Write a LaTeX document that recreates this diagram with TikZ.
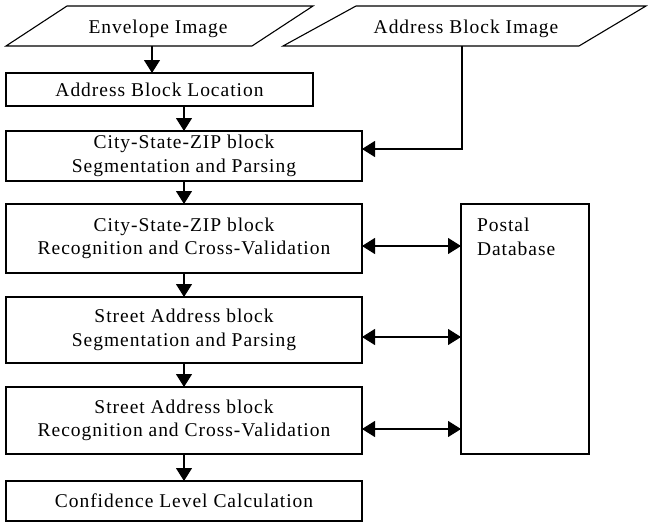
\documentclass[tikz,border=0pt]{standalone}
\usepackage{fontspec}
\setmainfont{Liberation Serif}[LetterSpace=5]
\usetikzlibrary{arrows.meta}
\begin{document}
\begin{tikzpicture}[x=1pt,y=1pt,line width=1.1pt,
  lbl/.style={inner sep=0pt,outer sep=0pt,align=center,font=\fontsize{19.5}{23.5}\selectfont},
  proc/.style={lbl,draw,rectangle,fill=white},
  tip/.style={-{Triangle[length=13pt,width=16pt]}},
  both/.style={{Triangle[length=13pt,width=16pt]}-{Triangle[length=13pt,width=16pt]}}]
\useasboundingbox (0,0) rectangle (649,-522);

% input parallelograms
\draw (67,-6) -- (313,-6) -- (252,-46) -- (6,-46) -- cycle;
\node[lbl] (env) at (158,-29) {Envelope Image};
\draw (356,-6) -- (646,-6) -- (579,-46) -- (283,-46) -- cycle;
\node[lbl] (abi) at (466,-29) {Address Block Image};
\coordinate (envOut) at (152,-46);
\coordinate (abiOut) at (462,-46);

% processing chain
\node[proc,minimum width=307pt,minimum height=33pt] (abl) at (159.5,-89.5) {Address Block Location};
\node[proc,minimum width=356pt,minimum height=50pt] (b1) at (184,-156) {City-State-ZIP block\\Segmentation and Parsing};
\node[proc,minimum width=356pt,minimum height=69pt] (b2) at (184,-238.5) {City-State-ZIP block\\Recognition and Cross-Validation};
\node[proc,minimum width=356pt,minimum height=66pt] (b3) at (184,-330) {Street Address block\\Segmentation and Parsing};
\node[proc,minimum width=356pt,minimum height=67pt] (b4) at (184,-420.5) {Street Address block\\Recognition and Cross-Validation};
\node[proc,minimum width=356pt,minimum height=40pt] (b5) at (184,-501) {Confidence Level Calculation};

% database
\node[draw,rectangle,inner sep=0pt,outer sep=0pt,minimum width=128pt,minimum height=250pt] (pd) at (525,-329) {};
\node[lbl,align=left,anchor=north west] (pdt) at ([xshift=16pt,yshift=-14pt]pd.north west) {Postal\\Database};

% flow connectors
\draw[tip] (envOut) -- (envOut |- abl.north);
\draw[tip] (abl.south -| b1.north) -- (b1.north);
\draw[tip] (b1.south) -- (b2.north);
\draw[tip] (b2.south) -- (b3.north);
\draw[tip] (b3.south) -- (b4.north);
\draw[tip] (b4.south) -- (b5.north);
\draw[tip] (abiOut) |- ([yshift=7pt]b1.east);

% database lookups
\draw[both] ([yshift=-7.5pt]b2.east) -- ([yshift=-7.5pt]b2.east -| pd.west);
\draw[both] ([yshift=-7pt]b3.east) -- ([yshift=-7pt]b3.east -| pd.west);
\draw[both] ([yshift=-8.5pt]b4.east) -- ([yshift=-8.5pt]b4.east -| pd.west);
\end{tikzpicture}
\end{document}
